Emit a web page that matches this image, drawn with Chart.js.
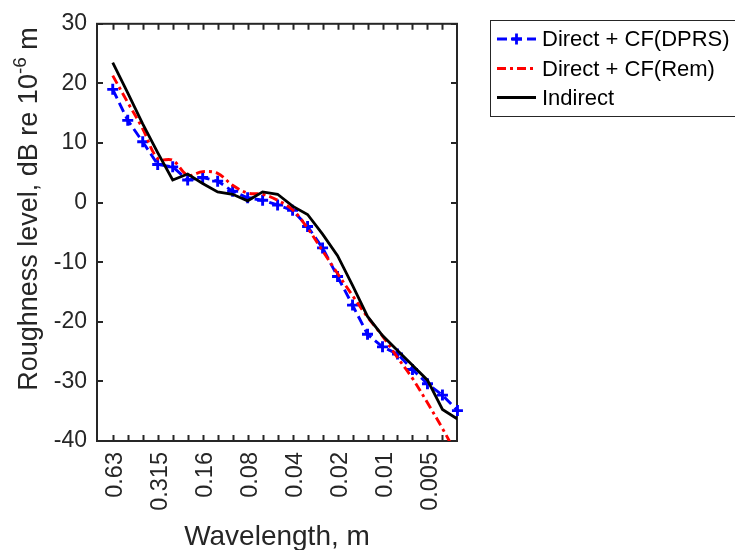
<!DOCTYPE html>
<html>
<head>
<meta charset="utf-8">
<script src="https://cdn.jsdelivr.net/npm/chart.js@4"></script>
<style>
  html, body { margin: 0; padding: 0; background: #fff; }
  #wrap { width: 735px; height: 550px; }
</style>
</head>
<body>
<div id="wrap"><canvas id="ch-roughness" width="735" height="550"></canvas></div>
<script>
// ── Datos (bandas de 1/3 de octava, longitud de onda en m) ──────────────
const wavelengths = [0.63, 0.5, 0.4, 0.315, 0.25, 0.2, 0.16, 0.125, 0.1, 0.08, 0.063, 0.05,
    0.04, 0.0315, 0.025, 0.02, 0.016, 0.0125, 0.01, 0.008, 0.0063, 0.005, 0.004, 0.00315];
const labelledWavelengths = [0.63, 0.315, 0.16, 0.08, 0.04, 0.02, 0.01, 0.005];
const yTicks = [-40, -30, -20, -10, 0, 10, 20, 30];

const directDPRS = [19.0, 13.8, 10.2, 6.4, 6.0, 3.8, 4.2, 3.6, 1.9, 0.8, 0.4, -0.4,
    -1.3, -4.0, -7.6, -12.4, -17.2, -22.1, -24.2, -25.4, -28.0, -30.4, -32.3, -34.9];
const directRem = [21.3, 16.8, 12.4, 7.4, 7.1, 4.6, 5.2, 4.9, 2.9, 1.6, 1.4, 0.4,
    -1.2, -4.3, -8.1, -11.9, -15.6, -19.2, -22.4, -26.0, -29.5, -33.6, -37.9, -42.5];
const indirect = [23.5, 18.4, 13.2, 8.4, 3.8, 4.8, 3.2, 1.8, 1.4, 0.3, 1.8, 1.4,
    -0.6, -2.0, -5.3, -8.9, -13.9, -19.1, -22.3, -24.8, -27.3, -29.8, -34.7, -36.3];

const legendItems = ['Direct + CF(DPRS)', 'Direct + CF(Rem)', 'Indirect'];

// ── Estilo ───────────────────────────────────────────────────────────────
const AX   = '#262626';
const FONT = '"Liberation Sans", Arial, sans-serif';
const DASH_BLUE = [10, 5];
const DASH_RED  = [9, 4, 3, 4];

const pts = vals => vals.map((v, i) => ({ x: i, y: v }));

// ── Marco con ticks hacia dentro, titulos y leyenda ──────────────────────
const framePlugin = {
    id: 'frame',
    beforeDatasetsDraw(chart) {
        const { ctx, chartArea: a, scales: { x, y } } = chart;
        ctx.save();
        ctx.strokeStyle = AX;
        ctx.lineWidth = 2;
        ctx.strokeRect(a.left, a.top, a.right - a.left, a.bottom - a.top);
        ctx.beginPath();
        wavelengths.forEach((w, i) => {
            if (i > 22) return;
            const px = Math.round(x.getPixelForValue(i)) + 0.5;
            ctx.moveTo(px, a.bottom); ctx.lineTo(px, a.bottom - 6);
            ctx.moveTo(px, a.top);    ctx.lineTo(px, a.top + 6);
        });
        yTicks.forEach(v => {
            const py = Math.round(y.getPixelForValue(v));
            ctx.moveTo(a.left, py);  ctx.lineTo(a.left + 6, py);
            ctx.moveTo(a.right, py); ctx.lineTo(a.right - 6, py);
        });
        ctx.stroke();
        ctx.restore();
    },
    afterDraw(chart) {
        const { ctx, chartArea: a } = chart;
        ctx.save();
        ctx.fillStyle = AX;

        // Titulo eje X
        ctx.font = `28px ${FONT}`;
        ctx.textAlign = 'center';
        ctx.textBaseline = 'alphabetic';
        ctx.fillText('Wavelength, m', (a.left + a.right) / 2, 545);

        // Titulo eje Y con superindice
        const p1 = 'Roughness level, dB re 10', sup = '-6', p2 = ' m';
        const big = `27px ${FONT}`, small = `19px ${FONT}`;
        ctx.font = big;   const w1 = ctx.measureText(p1).width, w3 = ctx.measureText(p2).width;
        ctx.font = small; const w2 = ctx.measureText(sup).width;
        const total = w1 + w2 + w3;
        ctx.translate(37, 209);
        ctx.rotate(-Math.PI / 2);
        ctx.textAlign = 'left';
        let cx = -total / 2;
        ctx.font = big;   ctx.fillText(p1, cx, 0); cx += w1;
        ctx.font = small; ctx.fillText(sup, cx, -11); cx += w2;
        ctx.font = big;   ctx.fillText(p2, cx, 0);
        ctx.setTransform(1, 0, 0, 1, 0, 0);

        // Leyenda
        ctx.fillStyle = '#fff';
        ctx.fillRect(490.5, 20.5, 260, 96);
        ctx.strokeStyle = AX;
        ctx.lineWidth = 1;
        ctx.strokeRect(490.5, 20.5, 260, 96);
        const rows = [39, 68.5, 97.5];
        const styles = [
            { color: '#0000ff', dash: DASH_BLUE, marker: true },
            { color: '#ff0000', dash: DASH_RED },
            { color: '#000000', dash: [] },
        ];
        styles.forEach((s, k) => {
            const yy = rows[k];
            ctx.strokeStyle = s.color;
            ctx.lineWidth = 2.8;
            ctx.setLineDash(s.dash);
            ctx.beginPath(); ctx.moveTo(497, yy); ctx.lineTo(536, yy); ctx.stroke();
            ctx.setLineDash([]);
            if (s.marker) {
                ctx.beginPath();
                ctx.moveTo(511, yy); ctx.lineTo(522, yy);
                ctx.moveTo(516.5, yy - 5.5); ctx.lineTo(516.5, yy + 5.5);
                ctx.stroke();
            }
            ctx.fillStyle = '#000';
            ctx.font = `22px ${FONT}`;
            ctx.textAlign = 'left';
            ctx.textBaseline = 'middle';
            ctx.fillText(legendItems[k], 542, yy + 1);
        });
        ctx.restore();
    },
};

// ── Grafico ──────────────────────────────────────────────────────────────
const ctx = document.getElementById('ch-roughness').getContext('2d');
new Chart(ctx, {
    type: 'line',
    data: {
        datasets: [
            {
                label: legendItems[2], data: pts(indirect), order: 0,
                borderColor: '#000000', borderWidth: 2.8, pointRadius: 0, tension: 0,
            },
            {
                label: legendItems[1], data: pts(directRem), order: 1,
                borderColor: '#ff0000', borderWidth: 2.9, borderDash: DASH_RED,
                pointRadius: 0, tension: 0.35,
            },
            {
                label: legendItems[0], data: pts(directDPRS), order: 2,
                borderColor: '#0000ff', borderWidth: 2.9, borderDash: DASH_BLUE,
                pointStyle: 'cross', pointRadius: 5.5, pointBorderWidth: 2.9,
                pointBorderColor: '#0000ff', tension: 0,
                clip: { left: 6, top: 6, right: 6, bottom: 0 },
            },
        ],
    },
    options: {
        responsive: false, animation: false,
        layout: { padding: { left: 0, right: 278, top: 21, bottom: 0 } },
        plugins: { legend: { display: false }, tooltip: { enabled: false } },
        scales: {
            x: {
                // max no entero respecto a min: asi los ticks caen en enteros
                type: 'linear', min: -1.05, max: 22.97,
                afterFit: s => { s.height = 109; },
                grid: { display: false, drawTicks: false },
                border: { display: false },
                ticks: {
                    stepSize: 1, autoSkip: false, minRotation: 90, maxRotation: 90,
                    padding: 11, labelOffset: 3, color: AX, font: { family: FONT, size: 23.5 },
                    callback: v => {
                        if (!Number.isInteger(v) || v < 0 || v >= wavelengths.length) return '';
                        return labelledWavelengths.includes(wavelengths[v]) ? String(wavelengths[v]) : '';
                    },
                },
            },
            y: {
                min: -40, max: 30,
                afterFit: s => { s.width = 97; },
                grid: { display: false, drawTicks: false },
                border: { display: false },
                ticks: {
                    stepSize: 10, padding: 10, color: AX, font: { family: FONT, size: 23 },
                },
            },
        },
    },
    plugins: [framePlugin],
});
</script>
</body>
</html>
